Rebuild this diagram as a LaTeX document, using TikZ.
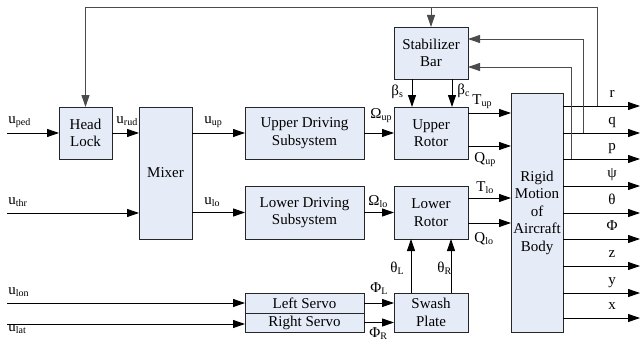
\documentclass[tikz,border=0pt]{standalone}
\usepackage{fontspec}
\setmainfont{Liberation Serif}
\usetikzlibrary{arrows.meta}
\definecolor{boxfill}{RGB}{230,236,247}
\definecolor{fbgray}{RGB}{75,75,75}
\newcommand\sbs[1]{\raisebox{-2.5pt}{\fontsize{10}{10}\selectfont #1}}
\begin{document}
\begin{tikzpicture}[x=1pt,y=-1pt,
  font=\fontsize{15}{17.5}\selectfont,
  line width=0.9pt,
  box/.style={draw=black!85, fill=boxfill, inner sep=0pt, outer sep=0pt, align=center},
  arr/.style={-{Triangle[length=12pt,width=8pt]}},
  fb/.style={draw=fbgray},
  lbl/.style={anchor=base west, inner sep=0pt},
  olbl/.style={anchor=base, inner sep=0pt}]
\useasboundingbox (0,0) rectangle (642,345);
% boxes
\node[box, minimum width=53pt, minimum height=52pt] (hl) at (85.5,133) {Head\\Lock};
\node[box, minimum width=53pt, minimum height=132pt] (mix) at (165.5,173) {Mixer};
\node[box, minimum width=119pt, minimum height=52pt] (ud) at (304.5,133) {Upper Driving\\Subsystem};
\node[box, minimum width=119pt, minimum height=53pt] (ld) at (304.5,212.5) {Lower Driving\\Subsystem};
\node[box, minimum width=119pt, minimum height=20pt] (ls) at (304.5,303) {Left Servo};
\node[box, minimum width=119pt, minimum height=19pt] (rs) at (304.5,322.5) {Right Servo};
\node[box, minimum width=74pt, minimum height=52pt] (sb) at (431,53) {Stabilizer\\Bar};
\node[box, minimum width=74pt, minimum height=52pt] (ur) at (431,133) {Upper\\Rotor};
\node[box, minimum width=74pt, minimum height=53pt] (lr) at (431,212.5) {Lower\\Rotor};
\node[box, minimum width=74pt, minimum height=39pt] (sw) at (431,312.5) {Swash\\Plate};
\node[box, minimum width=52pt, minimum height=239pt] (rb) at (537,212.5) {Rigid\\Motion\\of\\Aircraft\\Body};
% inputs
\coordinate (iped) at (7,133);
\coordinate (ithr) at (7,213);
\coordinate (ilon) at (7,303);
\coordinate (ilat) at (7,324);
\draw[arr] (iped) -- (iped -| hl.west);
\draw[arr] (ithr) -- (ithr -| mix.west);
\draw[arr] (ilon) -- (ilon -| ls.west);
\draw[arr] (ilat) -- (ilat -| rs.west);
\draw[arr] (hl.east) -- (hl.east -| mix.west);
\draw[arr] (ud.west -| mix.east) -- (ud.west);
\draw[arr] (ld.west -| mix.east) -- (ld.west);
\draw[arr] (ud.east) -- (ur.west);
\draw[arr] (ld.east) -- (lr.west);
\draw[arr] (ls.east) -- (ls.east -| sw.west);
\draw[arr] (rs.east) -- (rs.east -| sw.west);
\draw[arr] ([xshift=-20pt]sw.north) -- ([xshift=-20pt]lr.south);
\draw[arr] ([xshift=20pt]sw.north) -- ([xshift=20pt]lr.south);
\draw[arr] ([xshift=-19pt]sb.south) -- ([xshift=-19pt]ur.north);
\draw[arr] ([xshift=21pt]sb.south) -- ([xshift=21pt]ur.north);
\draw[arr] ([yshift=20pt]ur.east) -- ([yshift=20pt]ur.east -| rb.west);
\draw[arr] ([yshift=-13pt]ur.east) -- ([yshift=-13pt]ur.east -| rb.west);
\draw[arr] ([yshift=14.5pt]lr.east) -- ([yshift=14.5pt]lr.east -| rb.west);
\draw[arr] ([yshift=-10.5pt]lr.east) -- ([yshift=-10.5pt]lr.east -| rb.west);
% outputs
\foreach \yy/\nm/\tx in {106/r/r, 133/q/q, 159/p/p, 186/psi/ψ, 213/th/θ, 239/phi/Φ, 266/z/z, 293/y/y, 318/x/x}{
  \coordinate (o\nm) at (640,\yy);
  \draw[arr] (rb.east |- o\nm) -- (o\nm);
  \node[olbl] (l\nm) at (612,\yy-9) {\tx};
}
% feedback
\coordinate (fr) at (597,106);
\coordinate (ftop) at (597,7);
\coordinate (fq) at (583,133);
\coordinate (fp) at (571,159);
\draw[fb,arr] (fr) -- (ftop) -| (hl.north);
\draw[fb,arr] (sb.north |- ftop) -- (sb.north);
\draw[fb,arr] (fq) |- ([yshift=14pt]sb.east);
\draw[fb,arr] (fp) |- ([yshift=-14pt]sb.east);
% labels
\node[lbl] (Lped) at (8,123) {u\sbs{ped}};
\node[lbl] (Lrud) at (116,123) {u\sbs{rud}};
\node[lbl] (Lup) at (204,123) {u\sbs{up}};
\node[lbl] (Lthr) at (8,204) {u\sbs{thr}};
\node[lbl] (Llo) at (204,204) {u\sbs{lo}};
\node[lbl] (Llon) at (8,294) {u\sbs{lon}};
\node[lbl] (Llat) at (8,331) {u\sbs{lat}};
\node[lbl] (LOup) at (370,118) {Ω\sbs{up}};
\node[lbl] (LOlo) at (368,205) {Ω\sbs{lo}};
\node[lbl] (Lbs) at (391,95) {β\sbs{s}};
\node[lbl] (Lbc) at (457,94) {β\sbs{c}};
\node[lbl] (LTup) at (472,104) {T\sbs{up}};
\node[lbl] (LQup) at (474,162) {Q\sbs{up}};
\node[lbl] (LTlo) at (476,191) {T\sbs{lo}};
\node[lbl] (LQlo) at (474,242) {Q\sbs{lo}};
\node[lbl] (LthL) at (390,272) {θ\sbs{L}};
\node[lbl] (LthR) at (437,272) {θ\sbs{R}};
\node[lbl] (LPhL) at (370,292) {Φ\sbs{L}};
\node[lbl] (LPhR) at (369,337) {Φ\sbs{R}};
\end{tikzpicture}
\end{document}
